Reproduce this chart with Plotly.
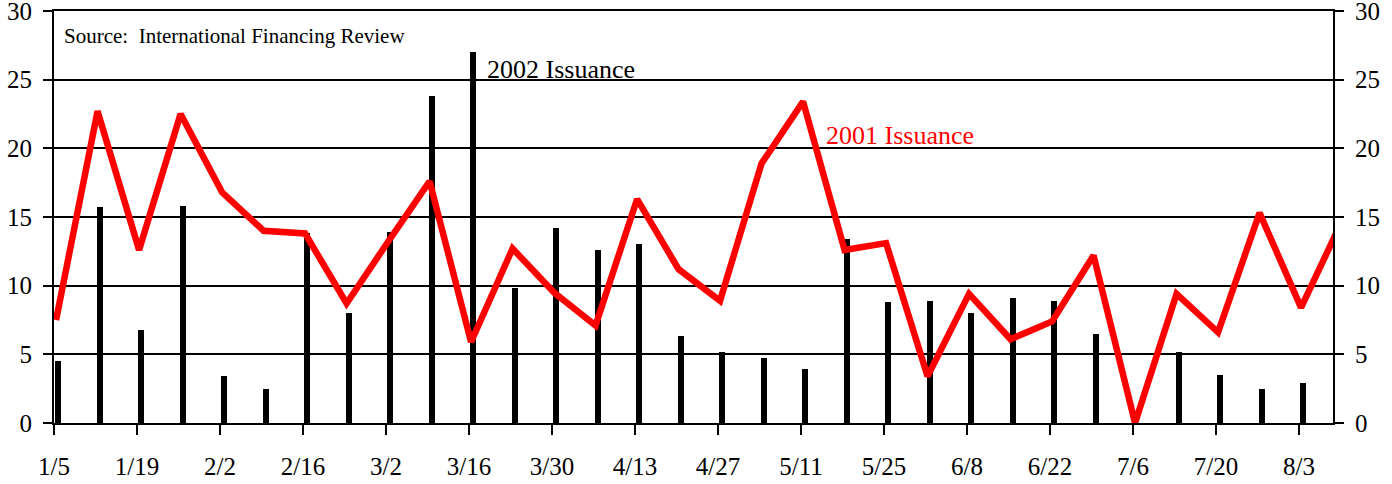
import numpy as np
import plotly.graph_objects as go

# Weekly data (week index 0 = 1/5, ... 31 = 8/10)
tick_labels = ["1/5", "1/19", "2/2", "2/16", "3/2", "3/16", "3/30", "4/13",
               "4/27", "5/11", "5/25", "6/8", "6/22", "7/6", "7/20", "8/3"]

issuance_2002 = [4.5, 15.7, 6.8, 15.8, 3.4, 2.5, 13.8, 8.0, 13.9, 23.8,
                 27.0, 9.8, 14.2, 12.6, 13.0, 6.3, 5.2, 4.7, 3.9, 13.4,
                 8.8, 8.9, 8.0, 9.1, 8.9, 6.5, 0.0, 5.2, 3.5, 2.5,
                 2.9, None]

issuance_2001 = [7.5, 22.7, 12.6, 22.5, 16.8, 14.0, 13.8, 8.7, 13.2, 17.6,
                 5.9, 12.7, 9.5, 7.1, 16.3, 11.2, 8.9, 18.9, 23.4, 12.6,
                 13.1, 3.4, 9.4, 6.1, 7.4, 12.2, 0.0, 9.4, 6.6, 15.3,
                 8.4, 14.8]

weeks = np.arange(len(issuance_2001))
tick_idx = np.arange(0, 2 * len(tick_labels), 2)
shift = 0.05  # data sits slightly right of the tick marks

FONT = "Liberation Serif, Times New Roman, serif"
TICKFONT = dict(family=FONT, size=25, color="black")

fig = go.Figure()
fig.add_trace(go.Bar(
    x=weeks, y=issuance_2002, marker=dict(color="black", line=dict(width=0)),
    width=0.145, offset=-0.025, yaxis="y", showlegend=False, hoverinfo="skip",
))
fig.add_trace(go.Scatter(
    x=weeks, y=issuance_2001, mode="lines",
    line=dict(color="#FF0000", width=6.5), yaxis="y2", showlegend=False,
    hoverinfo="skip",
))

axis_common = dict(
    range=[0, 30], tickvals=[0, 5, 10, 15, 20, 25, 30], ticks="outside",
    ticklen=9, tickwidth=2,
    tickcolor="black", showline=True, linecolor="black", linewidth=2,
    zeroline=False, fixedrange=True, automargin=False,
    ticklabeloverflow="allow", ticklabelstandoff=6, tickfont=TICKFONT,
)

fig.update_layout(
    width=1392, height=484,
    font=dict(family=FONT, color="black"),
    margin=dict(l=54, r=59, t=11, b=61, autoexpand=False),
    paper_bgcolor="white", plot_bgcolor="white",
    bargap=0,
    xaxis=dict(
        range=[-shift, 30.77], tickvals=tick_idx - shift, ticktext=tick_labels,
        ticks="outside", ticklen=10, tickwidth=2, tickcolor="black",
        showline=True, mirror=True, linecolor="black", linewidth=2, showgrid=False,
        zeroline=False, tickfont=TICKFONT, fixedrange=True,
        automargin=False, ticklabelstandoff=10,
    ),
    yaxis=dict(**axis_common, side="left", showgrid=True, gridcolor="black",
               gridwidth=2),
    yaxis2=dict(**axis_common, side="right", overlaying="y", showgrid=False),
    annotations=[
        dict(x=0.15, y=28.2, xref="x", yref="y", text="Source:  International Financing Review",
             showarrow=False, xanchor="left", yanchor="middle",
             font=dict(family=FONT, size=21, color="black")),
        dict(x=10.34, y=25.75, xref="x", yref="y", text="2002 Issuance",
             showarrow=False, xanchor="left", yanchor="middle",
             font=dict(family=FONT, size=26, color="black")),
        dict(x=18.51, y=20.9, xref="x", yref="y", text="2001 Issuance",
             showarrow=False, xanchor="left", yanchor="middle",
             font=dict(family=FONT, size=26, color="#FF0000")),
    ],
)

fig.write_html("out.html", config={"displayModeBar": False},
               post_script="document.body.style.margin='0';")
